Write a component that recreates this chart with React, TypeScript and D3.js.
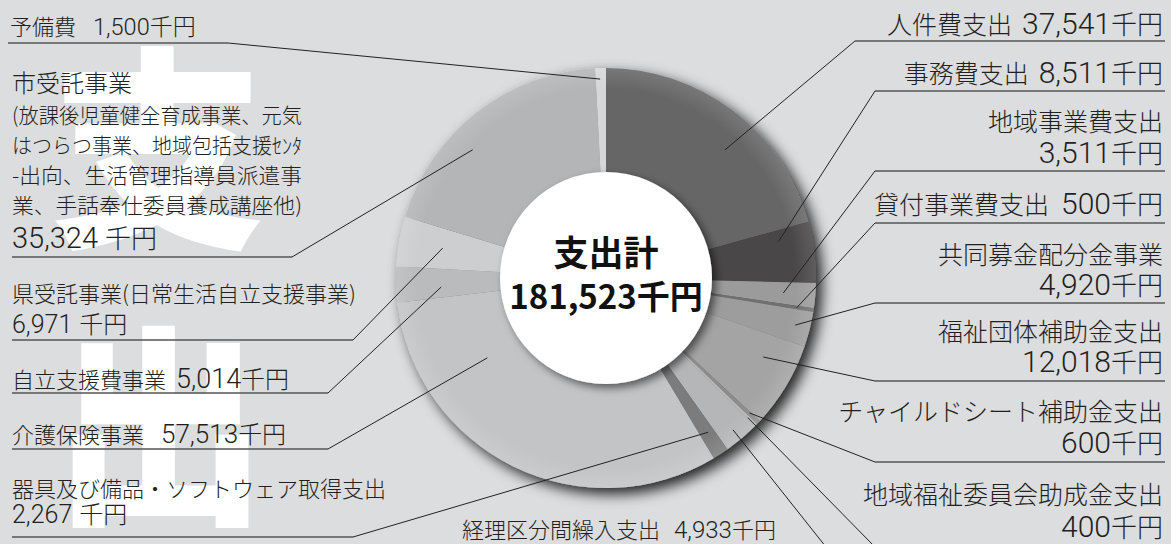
import React from 'react';
import * as d3 from 'd3';

// ---- data ----
const categories: string[] = [
  '人件費支出', '事務費支出', '地域事業費支出', '貸付事業費支出', '共同募金配分金事業',
  '福祉団体補助金支出', 'チャイルドシート補助金支出', '地域福祉委員会助成金支出', '経理区分間繰入支出',
  '器具及び備品・ソフトウェア取得支出', '介護保険事業', '自立支援費事業', '県受託事業(日常生活自立支援事業)',
  '市受託事業', '予備費',
];
const values: number[] = [37541, 8511, 3511, 500, 4920, 12018, 600, 400, 4933, 2267, 57513, 5014, 6971, 35324, 1500];
const subLines: string[][] = [
  [], [], [], [], [], [], [], [], [], [], [], [], [],
  ['(放課後児童健全育成事業、元気', 'はつらつ事業、地域包括支援ｾﾝﾀ', '-出向、生活管理指導員派遣事', '業、手話奉仕委員養成講座他)'],
  [],
];
const valueOnNewLine: boolean[] = [false, false, true, false, true, true, true, true, false, true, false, false, true, true, false];
const unitSpaced: boolean[] = [false, false, false, false, false, false, false, false, false, true, false, false, true, true, false];
const sliceColors: string[] = [
  '#666666', '#4a4646', '#9b9b9b', '#707070', '#9d9d9d', '#a4a4a4', '#8c8c8c', '#b8b8b8',
  '#b5b6b8', '#7b7b7b', '#c3c4c6', '#babbbd', '#cdcecf', '#b4b5b7', '#d6d7d8',
];
const centerTitle = '支出計';
const unit = '千円';
const watermark = ['支', '出'];

// ---- layout (positions / sizes only) ----
const W = 1171, H = 544;
const CX = 606, CY = 278, R = 210, RI = 106;
type Lay = {
  side: 'L' | 'R' | 'B';
  baselines: number[];
  fs: number[];
  numFs: number;
  unitFs: number;
  gap: number;
  ulY: number;
  ulX0: number;
  ulX1: number;
  elbowX: number;
  t: number;
  r: number;
  tx: number;
};
const RF = { fs: 25, numFs: 30, unitFs: 26 };
const layout: Lay[] = [
  { side: 'R', baselines: [34], fs: [RF.fs], numFs: RF.numFs, unitFs: RF.unitFs, gap: 10, ulY: 41, ulX0: 855, ulX1: 1165, elbowX: 855, t: 0.576, r: 175, tx: 1163 },
  { side: 'R', baselines: [83], fs: [RF.fs], numFs: RF.numFs, unitFs: RF.unitFs, gap: 10, ulY: 91, ulX0: 875, ulX1: 1165, elbowX: 875, t: 0.22, r: 176, tx: 1163 },
  { side: 'R', baselines: [131, 163], fs: [RF.fs], numFs: RF.numFs, unitFs: RF.unitFs, gap: 0, ulY: 171, ulX0: 875, ulX1: 1165, elbowX: 875, t: 0.5, r: 178, tx: 1163 },
  { side: 'R', baselines: [214], fs: [RF.fs], numFs: RF.numFs, unitFs: RF.unitFs, gap: 12, ulY: 223, ulX0: 875, ulX1: 1165, elbowX: 875, t: 0.6, r: 193, tx: 1163 },
  { side: 'R', baselines: [264, 295], fs: [RF.fs], numFs: RF.numFs, unitFs: RF.unitFs, gap: 0, ulY: 303, ulX0: 875, ulX1: 1165, elbowX: 875, t: 0.48, r: 195, tx: 1163 },
  { side: 'R', baselines: [341, 372], fs: [RF.fs], numFs: RF.numFs, unitFs: RF.unitFs, gap: 0, ulY: 381, ulX0: 875, ulX1: 1165, elbowX: 875, t: 0.32, r: 176, tx: 1163 },
  { side: 'R', baselines: [421, 453], fs: [RF.fs], numFs: RF.numFs, unitFs: RF.unitFs, gap: 0, ulY: 462, ulX0: 875, ulX1: 1165, elbowX: 875, t: 0.3, r: 197, tx: 1163 },
  { side: 'R', baselines: [504, 537], fs: [RF.fs], numFs: RF.numFs, unitFs: RF.unitFs, gap: 0, ulY: 547, ulX0: 875, ulX1: 1165, elbowX: 875, t: 0.6, r: 199, tx: 1163 },
  { side: 'B', baselines: [538], fs: [22], numFs: 24, unitFs: 22, gap: 14, ulY: 547, ulX0: 460, ulX1: 826, elbowX: 826, t: 0.535, r: 198, tx: 462 },
  { side: 'L', baselines: [497, 523], fs: [22], numFs: 25, unitFs: 24, gap: 0, ulY: 537, ulX0: 12, ulX1: 353, elbowX: 353, t: 0.41, r: 185, tx: 12 },
  { side: 'L', baselines: [443], fs: [22], numFs: 26, unitFs: 24, gap: 17, ulY: 449, ulX0: 12, ulX1: 328, elbowX: 328, t: 0.762, r: 143, tx: 12 },
  { side: 'L', baselines: [388], fs: [22], numFs: 27, unitFs: 24, gap: 10, ulY: 393, ulX0: 12, ulX1: 328, elbowX: 328, t: 0.37, r: 165, tx: 12 },
  { side: 'L', baselines: [302, 333], fs: [22], numFs: 25, unitFs: 24, gap: 0, ulY: 340, ulX0: 12, ulX1: 353, elbowX: 353, t: 0.525, r: 166, tx: 12 },
  { side: 'L', baselines: [92, 123, 153, 183, 213, 248], fs: [24, 21, 21, 21, 21], numFs: 29, unitFs: 26, gap: 0, ulY: 257, ulX0: 12, ulX1: 292, elbowX: 292, t: 0.384, r: 185, tx: 12 },
  { side: 'L', baselines: [35], fs: [22], numFs: 23.5, unitFs: 23, gap: 17, ulY: 43, ulX0: 8, ulX1: 228, elbowX: 228, t: 0.43, r: 199, tx: 10 },
];
const longLineWidth = 290;

const FONT = '"Noto Sans CJK JP", "Noto Sans", sans-serif';
const NUMFONT = 'Roboto, "Noto Sans", sans-serif';

export default function App() {
  const fmt = d3.format(',');
  const pie = d3.pie<number>().sort(null).startAngle(0).endAngle(2 * Math.PI);
  const arcs = pie(values);
  const arc = d3.arc<d3.PieArcDatum<number>>().innerRadius(0).outerRadius(R);

  const anchorPoint = (i: number) => {
    const a = arcs[i];
    const ang = a.startAngle + layout[i].t * (a.endAngle - a.startAngle);
    const r = layout[i].r;
    return [CX + r * Math.sin(ang), CY - r * Math.cos(ang)];
  };

  const valueSpans = (i: number, inline: boolean) => {
    const L = layout[i];
    return [
      <tspan key="n" fontFamily={NUMFONT} fontWeight={300} fontSize={L.numFs} dx={inline ? L.gap : 0}>{fmt(values[i])}</tspan>,
      <tspan key="u" fontSize={L.unitFs} dx={unitSpaced[i] ? 7 : 0}>{unit}</tspan>,
    ];
  };

  return (
    <svg width={W} height={H} style={{ display: 'block', position: 'absolute', left: 0, top: 0 }} fontFamily={FONT}>
      <defs>
        <filter id="pieShadow" x="-20%" y="-20%" width="140%" height="140%">
          <feDropShadow dx="6" dy="6" stdDeviation="7" floodColor="#000" floodOpacity="0.85" />
        </filter>
        <filter id="innerShadow" x="-20%" y="-20%" width="140%" height="140%">
          <feDropShadow dx="4" dy="4" stdDeviation="4" floodColor="#000" floodOpacity="0.55" />
        </filter>
        <radialGradient id="rim" cx="0.5" cy="0.5" r="0.5">
          <stop offset="0.9" stopColor="#fff" stopOpacity="0" />
          <stop offset="1" stopColor="#fff" stopOpacity="0.12" />
        </radialGradient>
      </defs>
      <rect x={0} y={0} width={W} height={H} fill="#dcdddf" />
      {/* background watermark glyphs */}
      <text x={158} y={230} textAnchor="middle" fontSize={215} fontWeight={900} fill="#ffffff">{watermark[0]}</text>
      <text x={160} y={507} textAnchor="middle" fontSize={215} fontWeight={900} fill="#ffffff">{watermark[1]}</text>

      {/* pie */}
      <g transform={`translate(${CX},${CY})`}>
        <g filter="url(#pieShadow)">
          {arcs.map((a, i) => (
            <path key={i} d={arc(a) || ''} fill={sliceColors[i]} />
          ))}
        </g>
        <circle r={R} fill="url(#rim)" />
        <circle r={RI} fill="#ffffff" filter="url(#innerShadow)" />
        <text y={-12} textAnchor="middle" fontSize={35} fontWeight={700} fill="#111">{centerTitle}</text>
        <text y={31} textAnchor="middle" fontSize={33} fontWeight={700} fill="#111">{fmt(d3.sum(values)) + unit}</text>
      </g>

      {/* leaders + labels */}
      {categories.map((c, i) => {
        const L = layout[i];
        const [px, py] = anchorPoint(i);
        const anchor = L.side === 'R' ? 'end' : 'start';
        const nameLines = [c, ...subLines[i]];
        const inline = !valueOnNewLine[i];
        return (
          <g key={i}>
            <line x1={L.ulX0} x2={L.ulX1} y1={L.ulY} y2={L.ulY} stroke="#555" strokeWidth={1.3} />
            <line x1={L.elbowX} y1={L.ulY} x2={px} y2={py} stroke="#222" strokeWidth={1} />
            {nameLines.map((ln, j) => {
              const extra: any = {};
              if (i === 13 && j >= 1) {
                extra.textLength = longLineWidth;
                extra.lengthAdjust = 'spacingAndGlyphs';
              }
              const isLast = j === nameLines.length - 1;
              return (
                <text key={j} x={L.tx} y={L.baselines[j]} fontSize={L.fs[Math.min(j, L.fs.length - 1)]} fontWeight={300} textAnchor={anchor} fill="#231f20" {...extra}>
                  {ln}
                  {isLast && inline ? valueSpans(i, true) : null}
                </text>
              );
            })}
            {!inline ? (
              <text x={L.tx} y={L.baselines[nameLines.length]} fontWeight={300} textAnchor={anchor} fill="#231f20">
                {valueSpans(i, false)}
              </text>
            ) : null}
          </g>
        );
      })}
    </svg>
  );
}
